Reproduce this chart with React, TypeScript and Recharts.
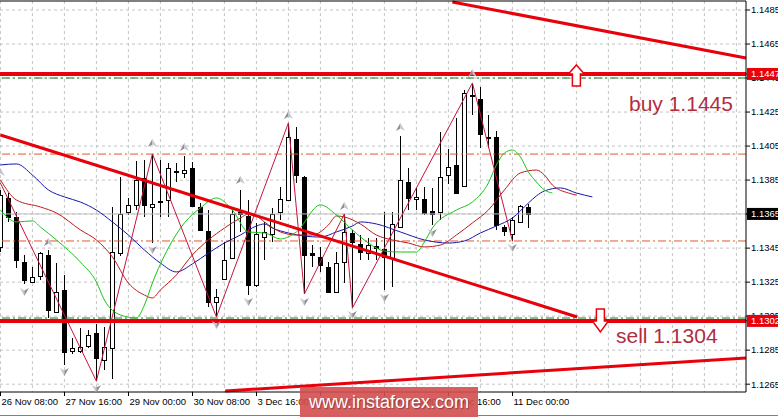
import React from 'react'
import {
  Bar,
  CartesianGrid,
  ComposedChart,
  Line,
  ReferenceLine,
  Scatter,
  XAxis,
  YAxis,
} from 'recharts'

// 4H candles, index 0 = 26 Nov 08:00
const opens = [
  1.13457, 1.13745, 1.13633, 1.13368, 1.13251, 1.13286, 1.1341, 1.13074, 1.13204, 1.12845,
  1.12845, 1.12874, 1.12951, 1.12792, 1.12863, 1.13421, 1.13662, 1.13704, 1.13862, 1.13692,
  1.13721, 1.13733, 1.13904, 1.13892, 1.13921, 1.13692, 1.13551, 1.13133, 1.13268, 1.13392,
  1.13662, 1.13639, 1.13233, 1.13515, 1.13533, 1.13662, 1.13733, 1.14092, 1.13868, 1.13421,
  1.13398, 1.13339, 1.13192, 1.13368, 1.13539, 1.13474, 1.13421, 1.13462, 1.13445, 1.13392,
  1.13574, 1.13839, 1.13739, 1.13739, 1.13668, 1.13662, 1.1388, 1.13939, 1.13815, 1.1435,
  1.14327, 1.14104, 1.14104, 1.13574, 1.13533, 1.13604, 1.13692,
]
const highs = [
  1.13792, 1.13774, 1.13662, 1.1341, 1.13339, 1.13427, 1.13439, 1.13362, 1.13292, 1.12921,
  1.1298, 1.12968, 1.13004, 1.12986, 1.13692, 1.13868, 1.13745, 1.13962, 1.13968, 1.14004,
  1.13968, 1.13951, 1.13951, 1.13992, 1.13956, 1.13715, 1.13674, 1.1321, 1.13486, 1.13674,
  1.13792, 1.13733, 1.13598, 1.13604, 1.13686, 1.13809, 1.14186, 1.14163, 1.13874, 1.13468,
  1.13457, 1.13368, 1.13427, 1.13651, 1.13557, 1.13527, 1.1351, 1.1351, 1.13662, 1.13662,
  1.14109, 1.13921, 1.13804, 1.13809, 1.13804, 1.14133, 1.14033, 1.14215, 1.1438, 1.14421,
  1.14397, 1.14233, 1.14139, 1.13586, 1.13633, 1.13704, 1.13709,
]
const lows = [
  1.13427, 1.13604, 1.13333, 1.13239, 1.13245, 1.13262, 1.13039, 1.13068, 1.12762, 1.12827,
  1.12833, 1.12863, 1.12668, 1.12733, 1.1268, 1.13404, 1.13645, 1.13674, 1.13633, 1.1348,
  1.13633, 1.13633, 1.13839, 1.13862, 1.13692, 1.13551, 1.13104, 1.13045, 1.13262, 1.13386,
  1.13545, 1.13174, 1.13221, 1.1338, 1.13486, 1.13615, 1.13727, 1.13833, 1.1318, 1.13339,
  1.13309, 1.13186, 1.13186, 1.13245, 1.13098, 1.1338, 1.1338, 1.1338, 1.13204, 1.13221,
  1.13568, 1.13674, 1.13674, 1.13645, 1.13586, 1.13615, 1.13827, 1.13774, 1.13809, 1.14233,
  1.14039, 1.14039, 1.13557, 1.13521, 1.13492, 1.13604, 1.13568,
]
const closes = [
  1.13762, 1.13633, 1.1338, 1.13262, 1.1328, 1.13421, 1.13086, 1.13192, 1.12839, 1.12863,
  1.12868, 1.12939, 1.12804, 1.12868, 1.13427, 1.13651, 1.13704, 1.13851, 1.13704, 1.13709,
  1.13727, 1.13921, 1.13898, 1.13909, 1.13698, 1.13557, 1.13133, 1.13163, 1.1338, 1.13651,
  1.13651, 1.13233, 1.13533, 1.13545, 1.13651, 1.13739, 1.14104, 1.1388, 1.1341, 1.1341,
  1.13351, 1.13192, 1.13362, 1.13545, 1.13486, 1.13427, 1.13468, 1.13451, 1.13398, 1.13592,
  1.13851, 1.13745, 1.13751, 1.13657, 1.13651, 1.13868, 1.13927, 1.13774, 1.14362, 1.14345,
  1.14121, 1.14098, 1.13586, 1.13548, 1.13615, 1.13698, 1.13651,
]

// Alligator lines, read as [candle index, price]
const jawPts: [number, number][] = [
  [0, 1.13939], [2, 1.13945], [4, 1.1388], [6, 1.13792], [8, 1.13751], [10, 1.13721],
  [12, 1.13674], [14, 1.13604], [16, 1.13527], [18, 1.13439], [20, 1.13362], [22, 1.1331],
  [24, 1.13357], [26, 1.13421], [28, 1.1348], [30, 1.13527], [32, 1.1358], [33, 1.13592],
  [34, 1.13568], [36, 1.13539], [38, 1.13521], [40, 1.13515], [42, 1.13545], [44, 1.1358],
  [45, 1.13604], [47, 1.13592], [50, 1.13545], [53, 1.13498], [56, 1.1348], [58, 1.13492],
  [60, 1.13539], [62, 1.1358], [64, 1.13627], [66, 1.13715], [67, 1.13757], [68, 1.13786],
  [70, 1.13804], [72, 1.13774], [74, 1.13751],
]
const teethPts: [number, number][] = [
  [0, 1.13851], [2, 1.13733], [5, 1.13692], [7, 1.13657], [10, 1.13557], [12, 1.13498],
  [14, 1.13398], [16, 1.13245], [18, 1.13174], [19, 1.13157], [20, 1.13204], [22, 1.13292],
  [24, 1.1341], [26, 1.13498], [28, 1.13568], [30, 1.13627], [31, 1.13651], [32, 1.13639],
  [33, 1.13604], [35, 1.13545], [37, 1.13527], [39, 1.13527], [41, 1.13586], [42, 1.13639],
  [43, 1.13633], [45, 1.13592], [47, 1.13527], [49, 1.13498], [51, 1.1348], [53, 1.13457],
  [55, 1.13468], [57, 1.13527], [59, 1.13598], [61, 1.13674], [63, 1.13792], [65, 1.13892],
  [67, 1.13909], [68, 1.1388], [69, 1.13821], [71, 1.13774], [72, 1.13762],
]
const lipsPts: [number, number][] = [
  [0, 1.13674], [2, 1.13604], [4, 1.1361], [5, 1.13574], [7, 1.13498], [10, 1.13368],
  [12, 1.13251], [13, 1.13145], [15, 1.13057], [17, 1.13039], [18, 1.13115], [19, 1.13245],
  [21, 1.13451], [23, 1.13598], [25, 1.13686], [27, 1.13745], [29, 1.13674], [31, 1.13545],
  [33, 1.13539], [35, 1.13504], [37, 1.13545], [40, 1.13704], [42, 1.13645], [44, 1.13557],
  [46, 1.1348], [48, 1.13433], [50, 1.13427], [52, 1.13427], [53, 1.13486], [54, 1.13568],
  [57, 1.13674], [59, 1.13721], [61, 1.13833], [62, 1.13939], [63, 1.14009], [64, 1.14027],
  [65, 1.13986], [66, 1.13898], [67, 1.13839], [68, 1.13792], [69, 1.13774],
]
const zigzagPts: [number, number][] = [
  [0, 1.13833], [12, 1.12668], [19, 1.14004], [27, 1.13045], [36, 1.14186], [38, 1.1318],
  [43, 1.13651], [44, 1.13098], [59, 1.14421], [64, 1.13492],
]

// fractal markers
const fractalUp = [
  { i: 0, p: 1.13898 }, { i: 6, p: 1.13486 }, { i: 19, p: 1.14068 }, { i: 23, p: 1.14045 },
  { i: 30, p: 1.13851 }, { i: 36, p: 1.14233 }, { i: 43, p: 1.13698 }, { i: 50, p: 1.14162 },
  { i: 59, p: 1.1448 },
]
const fractalDown = [
  { i: 3, p: 1.13192 }, { i: 8, p: 1.12721 }, { i: 12, p: 1.12621 }, { i: 19, p: 1.13439 },
  { i: 27, p: 1.12998 }, { i: 31, p: 1.13133 }, { i: 38, p: 1.13133 }, { i: 44, p: 1.13057 },
  { i: 48, p: 1.13157 }, { i: 54, p: 1.13539 }, { i: 64, p: 1.13451 },
]
const buyMark = [{ i: 72, p: 1.14474 }]
const sellMark = [{ i: 75, p: 1.13022 }]

// trend lines [[i, p], [i, p]]
const channelTop: [number, number][] = [[0, 1.14115], [72.1, 1.13045]]
const upperLine: [number, number][] = [[56.5, 1.14897], [93.2, 1.14568]]
const lowerLine: [number, number][] = [[28.1, 1.1261], [93.2, 1.12804]]
const buyLevel = 1.14474
const sellLevel = 1.13022
const entryLevels = [1.1445, 1.13039]
const swingLevels = [1.14003, 1.13492]
const lastPrice = 1.13651

const priceTicks = [
  1.1265, 1.1285, 1.1305, 1.1325, 1.1345, 1.1365, 1.1385, 1.1405, 1.1425, 1.1445, 1.1465, 1.1485,
]
const priceTags = [
  { v: buyLevel, bg: '#e8000b' },
  { v: lastPrice, bg: '#000000' },
  { v: sellLevel, bg: '#e8000b' },
]
const timeTicks = [0, 8, 16, 24, 32, 40, 48, 56, 64]
const timeLabels = [
  '26 Nov 08:00', '27 Nov 16:00', '29 Nov 00:00', '30 Nov 08:00', '3 Dec 16:00',
  '5 Dec 00:00', '6 Dec 08:00', '7 Dec 16:00', '11 Dec 00:00',
]
const gridIdx = Array.from({ length: 24 }, (_, k) => k * 4)

const FONT = '"Liberation Sans", Arial, sans-serif'

type Row = { i: number; [k: string]: any }
const rows: Row[] = Array.from({ length: 76 }, (_, i) => ({ i }))
opens.forEach((o, i) => {
  rows[i].o = o
  rows[i].h = highs[i]
  rows[i].l = lows[i]
  rows[i].c = closes[i]
  rows[i].range = [lows[i], highs[i]]
})
jawPts.forEach(([i, v]) => (rows[i].jaw = v))
teethPts.forEach(([i, v]) => (rows[i].teeth = v))
lipsPts.forEach(([i, v]) => (rows[i].lips = v))
zigzagPts.forEach(([i, v]) => (rows[i].zz = v))

function Candle(props: any) {
  const { x, y, width, height, payload } = props
  if (!payload || payload.o == null || !isFinite(y) || !isFinite(height)) return null
  const top = Math.min(y, y + height)
  const bot = Math.max(y, y + height)
  const span = payload.h - payload.l
  const py = (p: number) => top + ((payload.h - p) / span) * (bot - top)
  const cx = Math.round(x + width / 2)
  const yo = py(payload.o)
  const yc = py(payload.c)
  const bull = payload.c >= payload.o
  const bt = Math.round(Math.min(yo, yc)) + 0.5
  const bh = Math.max(0, Math.round(Math.abs(yc - yo)))
  return (
    <g>
      <line x1={cx + 0.5} x2={cx + 0.5} y1={Math.round(top)} y2={Math.round(bot)} stroke="#000" />
      {bh < 1 ? (
        <line x1={cx - 2} x2={cx + 3} y1={bt} y2={bt} stroke="#000" />
      ) : (
        <rect x={cx - 1.5} y={bt} width={4} height={bh} fill={bull ? '#fff' : '#000'} stroke="#000" />
      )}
    </g>
  )
}

// two-tone grey arrowheads, like the terminal's fractal marks
function FracUp(props: any) {
  const { cx, cy } = props
  return (
    <g>
      <path d={`M${cx},${cy - 4} L${cx - 4.5},${cy + 4} L${cx},${cy + 1.5} Z`} fill="#8e8e96" />
      <path d={`M${cx},${cy - 4} L${cx + 4.5},${cy + 4} L${cx},${cy + 1.5} Z`} fill="#c6c6ce" />
    </g>
  )
}

function FracDown(props: any) {
  const { cx, cy } = props
  return (
    <g>
      <path d={`M${cx},${cy + 4} L${cx - 4.5},${cy - 4} L${cx},${cy - 1.5} Z`} fill="#c6c6ce" />
      <path d={`M${cx},${cy + 4} L${cx + 4.5},${cy - 4} L${cx},${cy - 1.5} Z`} fill="#8e8e96" />
    </g>
  )
}

function BuyArrow(props: any) {
  const { cx, cy } = props
  return (
    <path
      d={`M${cx},${cy - 9} L${cx + 8},${cy} L${cx + 4},${cy} L${cx + 4},${cy + 12} L${cx - 4},${cy + 12} L${cx - 4},${cy} L${cx - 8},${cy} Z`}
      fill="#fff"
      stroke="#e8000b"
      strokeWidth={1.5}
    />
  )
}

function SellArrow(props: any) {
  const { cx, cy } = props
  return (
    <path
      d={`M${cx},${cy + 11} L${cx + 8},${cy} L${cx + 4},${cy} L${cx + 4},${cy - 12} L${cx - 4},${cy - 12} L${cx - 4},${cy} L${cx - 8},${cy} Z`}
      fill="#fff"
      stroke="#e8000b"
      strokeWidth={1.5}
    />
  )
}

function PriceTick(props: any) {
  const { x, y, payload } = props
  const tag = priceTags.find((t) => t.v === payload.value)
  return (
    <g>
      <line x1={x} x2={x + 4} y1={y} y2={y} stroke="#000" />
      {tag && <rect x={x + 1} y={y - 6} width={40} height={12} fill={tag.bg} />}
      <text x={x + 5} y={y} dy="0.35em" fontSize={9.5} fontFamily={FONT} fill={tag ? '#fff' : '#000'}>
        {payload.value.toFixed(4)}
      </text>
    </g>
  )
}

function TimeTick(props: any) {
  const { x, y, payload } = props
  const label = timeLabels[timeTicks.indexOf(payload.value)]
  const tx = Math.round(x) + 0.5
  return (
    <g>
      <line x1={tx} x2={tx} y1={y} y2={y + 4} stroke="#000" />
      <text x={tx + 1} y={y + 13} fontSize={9.5} fontFamily={FONT} fill="#000">
        {label}
      </text>
    </g>
  )
}

const seg = (s: [number, number][]) => s.map(([i, p]) => ({ x: i, y: p }))

export default function App() {
  return (
    <div style={{ position: 'absolute', left: 0, top: 0, width: 778, height: 417, background: '#fff', overflow: 'hidden' }}>
      <ComposedChart width={778} height={417} data={rows} margin={{ top: 0, right: 0, bottom: 0, left: 0 }}>
        <CartesianGrid
          stroke="#c4c4c4"
          strokeDasharray="3 3"
          horizontalValues={priceTicks}
          verticalValues={gridIdx}
        />
        <XAxis
          xAxisId="top"
          orientation="top"
          type="number"
          dataKey="i"
          domain={[-0.05, 93.2]}
          allowDataOverflow
          height={1}
          tick={false}
          tickLine={false}
          axisLine={{ stroke: '#000' }}
        />
        <XAxis
          type="number"
          dataKey="i"
          domain={[-0.05, 93.2]}
          allowDataOverflow
          ticks={timeTicks}
          interval={0}
          height={25}
          tickSize={0}
          tickMargin={0}
          tickLine={false}
          tick={<TimeTick />}
          axisLine={{ stroke: '#000' }}
        />
        <YAxis
          orientation="right"
          type="number"
          domain={[1.12604, 1.14903]}
          allowDataOverflow
          ticks={[...priceTicks, ...priceTags.map((t) => t.v)]}
          interval={0}
          width={32}
          tickSize={0}
          tickMargin={0}
          tickLine={false}
          tick={<PriceTick />}
          axisLine={{ stroke: '#000' }}
        />

        {swingLevels.map((v) => (
          <ReferenceLine key={'s' + v} y={v} stroke="#e2582c" strokeDasharray="8 3 2 3" />
        ))}
        {entryLevels.map((v) => (
          <ReferenceLine key={'e' + v} y={v} stroke="#1a7a1a" strokeDasharray="8 3 2 3" />
        ))}
        <ReferenceLine y={lastPrice} stroke="#c0c0c0" />

        <Line dataKey="jaw" type="monotone" stroke="#1515b0" strokeWidth={1} dot={false} activeDot={false} connectNulls isAnimationActive={false} />
        <Line dataKey="teeth" type="monotone" stroke="#c01818" strokeWidth={1} dot={false} activeDot={false} connectNulls isAnimationActive={false} />
        <Line dataKey="lips" type="monotone" stroke="#12c812" strokeWidth={1} dot={false} activeDot={false} connectNulls isAnimationActive={false} />
        <Line dataKey="zz" type="linear" stroke="#c8143c" strokeWidth={1} dot={false} activeDot={false} connectNulls isAnimationActive={false} />

        <Bar dataKey="range" barSize={5} shape={<Candle />} isAnimationActive={false} />

        <ReferenceLine y={buyLevel} stroke="#e8000b" strokeWidth={4} />
        <ReferenceLine y={sellLevel} stroke="#e8000b" strokeWidth={4} />
        <ReferenceLine segment={seg(channelTop)} stroke="#e8000b" strokeWidth={3} />
        <ReferenceLine segment={seg(upperLine)} stroke="#e8000b" strokeWidth={3} />
        <ReferenceLine segment={seg(lowerLine)} stroke="#e8000b" strokeWidth={3} />

        <Scatter data={fractalUp} dataKey="p" shape={<FracUp />} isAnimationActive={false} />
        <Scatter data={fractalDown} dataKey="p" shape={<FracDown />} isAnimationActive={false} />
        <Scatter data={buyMark} dataKey="p" shape={<BuyArrow />} isAnimationActive={false} />
        <Scatter data={sellMark} dataKey="p" shape={<SellArrow />} isAnimationActive={false} />
      </ComposedChart>

      <div style={{ position: 'absolute', left: 629, top: 93, fontFamily: FONT, fontSize: 21, lineHeight: '21px', color: '#b22d40', whiteSpace: 'nowrap' }}>
        buy 1.1445
      </div>
      <div style={{ position: 'absolute', left: 616, top: 325, fontFamily: FONT, fontSize: 21, lineHeight: '21px', color: '#b22d40', whiteSpace: 'nowrap' }}>
        sell 1.1304
      </div>
      <div
        style={{
          position: 'absolute',
          left: 300,
          top: 387,
          width: 178,
          height: 30,
          background: 'rgba(212, 78, 78, 0.9)',
          color: '#fff',
          fontFamily: FONT,
          fontSize: 18,
          lineHeight: '30px',
          textAlign: 'center',
          textShadow: '1px 1px 1px rgba(0,0,0,0.35)',
        }}
      >
        www.instaforex.com
      </div>
      <div style={{ position: 'absolute', left: 0, top: 415, width: 778, height: 1, background: '#808080' }} />
    </div>
  )
}
